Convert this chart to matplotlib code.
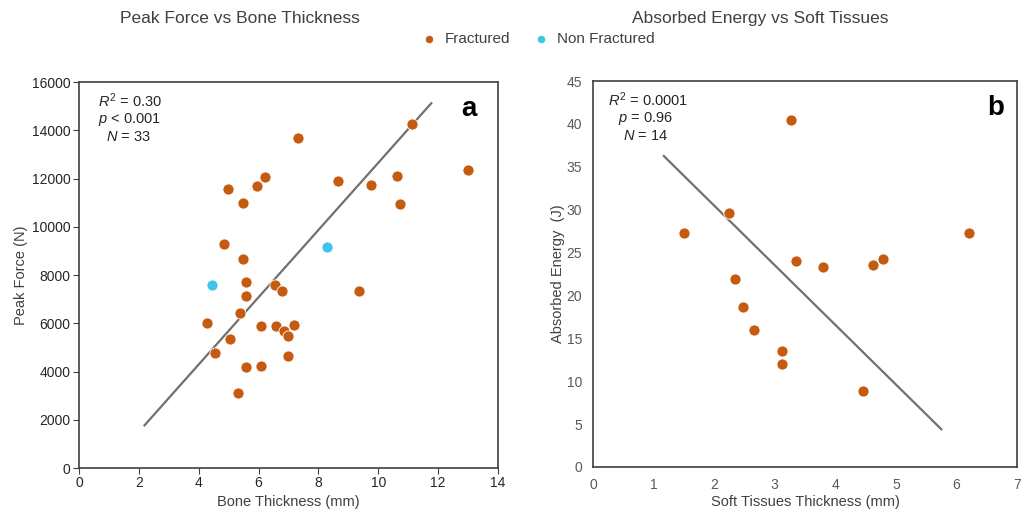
import numpy as np
import matplotlib.pyplot as plt

plt.rcParams['font.family'] = ['Liberation Sans', 'DejaVu Sans']
plt.rcParams['mathtext.fontset'] = 'custom'
plt.rcParams['mathtext.rm'] = 'Liberation Sans'
plt.rcParams['mathtext.it'] = 'Liberation Sans:italic'

# panel a: peak force vs bone thickness
bone_frac = [7.32, 11.13, 13.0, 8.65, 9.77, 10.62, 10.72, 4.99, 5.96, 6.2, 5.49,
             4.86, 5.49, 5.58, 5.58, 6.54, 6.78, 9.37, 5.37, 4.28, 6.08, 6.59,
             6.86, 7.0, 7.19, 5.05, 4.54, 5.58, 6.08, 7.0, 5.32]
force_frac = [13700, 14270, 12350, 11880, 11730, 12100, 10930, 11550, 11690, 12060, 10980,
              9300, 8680, 7710, 7140, 7570, 7320, 7330, 6440, 6010, 5870, 5870,
              5690, 5460, 5910, 5360, 4750, 4190, 4240, 4650, 3120]
bone_non = [4.46, 8.28]
force_non = [7570, 9160]
fit_a_x = [2.19, 11.77]
fit_a_y = [1770, 15120]

# panel b: absorbed energy vs soft tissues
soft = [3.27, 2.24, 1.51, 6.21, 3.35, 3.80, 4.63, 4.79, 2.35, 2.47, 2.66, 3.12, 3.12, 4.45]
energy = [40.5, 29.6, 27.3, 27.3, 24.0, 23.3, 23.5, 24.3, 21.9, 18.6, 16.0, 13.5, 12.0, 8.9]
fit_b_x = [1.17, 5.75]
fit_b_y = [36.25, 4.4]

orange = '#C55A11'
blue = '#3DC6EA'
txt = '#404040'

fig = plt.figure(figsize=(10.27, 5.16), dpi=100)
ax1 = fig.add_axes([0.0769, 0.093, 0.408, 0.748])
ax2 = fig.add_axes([0.5774, 0.095, 0.4129, 0.748])

ax1.plot(fit_a_x, fit_a_y, color='#707070', lw=1.6, zorder=2)
ax1.scatter(bone_frac, force_frac, s=64, color=orange, edgecolors='white', linewidths=0.6, zorder=3, label='Fractured')
ax1.scatter(bone_non, force_non, s=64, color=blue, edgecolors='white', linewidths=0.6, zorder=3, label='Non Fractured')
ax1.set_xlim(0, 14)
ax1.set_ylim(0, 16000)
ax1.set_xticks(np.arange(0, 15, 2))
ax1.set_yticks(np.arange(0, 16001, 2000))
ax1.tick_params(direction='out', length=4, color='#404040', labelsize=10, labelcolor='#262626', pad=2)
ax1.set_xlabel('Bone Thickness (mm)', fontsize=10.5, color=txt, labelpad=3)
ax1.set_ylabel('Peak Force (N)', fontsize=10.5, color=txt, labelpad=3)
fig.text(0.234, 0.965, 'Peak Force vs Bone Thickness', fontsize=12.5, color=txt, ha='center', va='center')
ax1.text(0.045, 0.975, '$R^2$ = 0.30', transform=ax1.transAxes, fontsize=10.5, color='#262626', va='top')
ax1.text(0.045, 0.925, r'$p$ < $\mathit{0.001}$', transform=ax1.transAxes, fontsize=10.5, color='#262626', va='top')
ax1.text(0.065, 0.875, '$N$ = 33', transform=ax1.transAxes, fontsize=10.5, color='#262626', va='top')
ax1.text(0.95, 0.965, 'a', transform=ax1.transAxes, fontsize=20, fontweight='bold', ha='right', va='top')

ax2.plot(fit_b_x, fit_b_y, color='#707070', lw=1.6, zorder=2)
ax2.scatter(soft, energy, s=64, color=orange, edgecolors='white', linewidths=0.6, zorder=3)
ax2.set_xlim(0, 7)
ax2.set_ylim(0, 45)
ax2.set_xticks(np.arange(0, 8, 1))
ax2.set_yticks(np.arange(0, 46, 5))
ax2.tick_params(length=0, labelsize=10, labelcolor='#595959', pad=8)
ax2.set_xlabel('Soft Tissues Thickness (mm)', fontsize=10.5, color=txt, labelpad=2)
ax2.set_ylabel('Absorbed Energy  (J)', fontsize=10.5, color=txt, labelpad=1)
fig.text(0.74, 0.965, 'Absorbed Energy vs Soft Tissues', fontsize=12.5, color=txt, ha='center', va='center')
ax2.text(0.035, 0.975, '$R^2$ = 0.0001', transform=ax2.transAxes, fontsize=10.5, color='#262626', va='top')
ax2.text(0.06, 0.925, '$p$ = 0.96', transform=ax2.transAxes, fontsize=10.5, color='#262626', va='top')
ax2.text(0.07, 0.875, '$N$ = 14', transform=ax2.transAxes, fontsize=10.5, color='#262626', va='top')
ax2.text(0.97, 0.965, 'b', transform=ax2.transAxes, fontsize=20, fontweight='bold', ha='right', va='top')

for ax in (ax1, ax2):
    for sp in ax.spines.values():
        sp.set_color('#404040')
        sp.set_linewidth(1.2)

fig.legend(*ax1.get_legend_handles_labels(), loc='center', bbox_to_anchor=(0.52, 0.925), ncol=2,
           frameon=False, fontsize=11, handletextpad=0.05, columnspacing=1.0, markerscale=0.75,
           labelcolor=txt)

plt.savefig('out.png', dpi=100)
